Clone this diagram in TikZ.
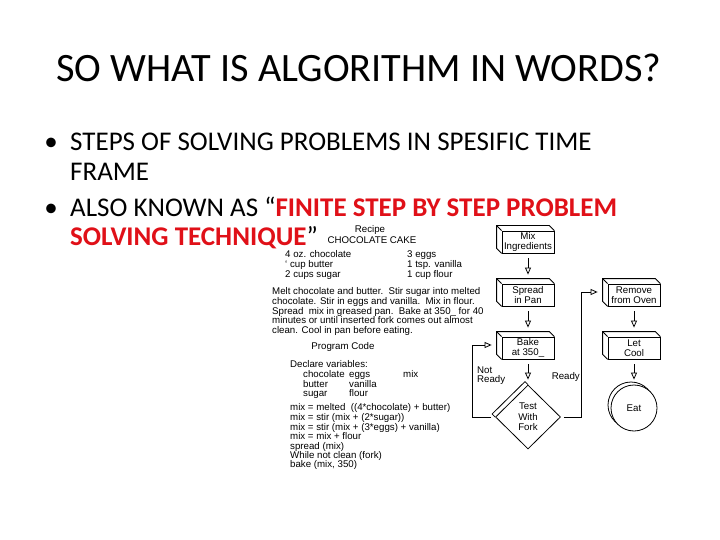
\documentclass[tikz,border=0pt]{standalone}
\usepackage{fontspec}
\setmainfont{Carlito}
\newfontfamily\arialf{Liberation Sans}
\usetikzlibrary{arrows.meta,shapes.geometric,calc}
\definecolor{tred}{RGB}{224,16,24}
\tikzset{
  ttl/.style={font=\fontsize{40.3bp}{48bp}\selectfont, anchor=base, inner sep=0pt},
  bl/.style={font=\fontsize{27bp}{32bp}\selectfont, anchor=base west, inner sep=0pt},
  blt/.style={font=\fontsize{27bp}{32bp}\selectfont, anchor=base, inner sep=0pt},
  sm/.style={font=\arialf\fontsize{9.7bp}{10.5bp}\selectfont, inner sep=0pt},
  ln/.style={sm, anchor=base west},
  lc/.style={sm, anchor=base},
  fbox/.style={sm, draw, line width=0.8bp, minimum width=52bp, minimum height=22bp, align=center, fill=white},
  fdia/.style={sm, draw, line width=0.8bp, shape=diamond, minimum width=65bp, minimum height=64bp, align=center, fill=white},
  feat/.style={sm, draw, line width=0.8bp, shape=circle, minimum size=46bp, fill=white},
  dep/.style={line width=0.8bp},
  flow/.style={line width=0.8bp, -{Triangle[open, length=7bp, width=6bp]}},
}
\newcommand\depthbox[1]{%
  \draw[dep] (#1.south west) -- ++(-5,-5) -- ($(#1.north west)+(-5,-5)$) -- ($(#1.north east)+(-5,-5)$) -- (#1.north east);
  \draw[dep] (#1.north west) -- ++(-5,-5);}
\begin{document}
\begin{tikzpicture}[x=1bp,y=-1bp]
\useasboundingbox[fill=white] (0,0) rectangle (720,540);
% title
\node[ttl] (title) at (359,82) {SO WHAT IS ALGORITHM IN WORDS?};
% bullets
\node[blt] (bu1) at (51,151) {•};
\node[bl] (l1) at (70,151) {STEPS OF SOLVING PROBLEMS IN SPESIFIC TIME};
\node[bl] (l2) at (70,181) {FRAME};
\node[blt] (bu2) at (51,217) {•};
\node[bl] (l3) at (70,217) {ALSO KNOWN AS “\textcolor{tred}{\bfseries FINITE STEP BY STEP PROBLEM}};
\node[bl, text depth=0pt] (l4) at (70,245.5) {\textcolor{tred}{\bfseries SOLVING TECHNIQUE}”};
% recipe
\node[lc] (rec) at (370,233) {Recipe};
\node[lc] (cake) at (372,244) {CHOCOLATE CAKE};
\node[ln] (i1) at (285,258) {4 oz. chocolate};
\node[ln] (i2) at (285,268) {‘ cup butter};
\node[ln] (i3) at (285,278) {2 cups sugar};
\node[ln] (i4) at (407,258) {3 eggs};
\node[ln] (i5) at (407,268) {1 tsp. vanilla};
\node[ln] (i6) at (407,278) {1 cup flour};
\node[ln] (p1) at (272,294) {Melt chocolate and butter.\ \ Stir sugar into melted};
\node[ln] (p2) at (272,304) {chocolate. Stir in eggs and vanilla.\ \ Mix in flour.};
\node[ln] (p3) at (272,314) {Spread\ \ mix in greased pan.\ \ Bake at 350\_ for 40};
\node[ln] (p4) at (272,323) {minutes or until inserted fork comes out almost};
\node[ln] (p5) at (272,333) {clean. Cool in pan before eating.};
% program code
\node[lc] (pc) at (343,349) {Program Code};
\node[ln] (dv) at (290,367) {Declare variables:};
\node[ln] (v1) at (303,377) {chocolate};
\node[ln] (v2) at (349,377) {eggs};
\node[ln] (v3) at (403,377) {mix};
\node[ln] (v4) at (303,387) {butter};
\node[ln] (v5) at (349,387) {vanilla};
\node[ln] (v6) at (303,396) {sugar};
\node[ln] (v7) at (349,396) {flour};
\node[ln] (c1) at (290,410) {mix = melted\ \ ((4*chocolate) + butter)};
\node[ln] (c2) at (290,420) {mix = stir (mix + (2*sugar))};
\node[ln] (c3) at (290,430) {mix = stir (mix + (3*eggs) + vanilla)};
\node[ln] (c4) at (290,439) {mix = mix + flour};
\node[ln] (c5) at (290,449) {spread (mix)};
\node[ln] (c6) at (290,458) {While not clean (fork)};
\node[ln] (c7) at (290,467) {bake (mix, 350)};
% flowchart
\node[fbox] (mix) at (528,242) {Mix\\Ingredients};
\depthbox{mix}
\node[fbox] (spread) at (528,295) {Spread\\in Pan};
\depthbox{spread}
\node[fbox] (bake) at (528,348) {Bake\\at 350\_};
\depthbox{bake}
\node[fbox] (remove) at (634,295) {Remove\\from Oven};
\depthbox{remove}
\node[fbox] (cool) at (634,348) {Let\\Cool};
\depthbox{cool}
\node[fdia] (test) at (528,417) {Test\\With\\Fork};
\draw[dep] (test.north) -- ++(-3,-3) -- ($(test.west)+(-3,-3)$) -- (test.west);
\coordinate (eatc) at (634,408);
\draw[dep] ($(eatc)+(-3,-3)$) circle[radius=23];
\node[feat] (eat) at (eatc) {Eat};
% connectors
\draw[flow, shorten <=5bp, shorten >=9bp] (mix.south) -- (spread.north);
\draw[flow, shorten <=5bp, shorten >=9bp] (spread.south) -- (bake.north);
\draw[flow, shorten <=5bp, shorten >=5bp] (bake.south) -- (test.north);
\draw[flow, shorten <=5bp, shorten >=9bp] (remove.south) -- (cool.north);
\draw[flow, shorten <=5bp, shorten >=5bp] (cool.south) -- (eat.north);
\coordinate (loopc) at (472,345);
\draw[flow, shorten >=10bp] ($(test.west)+(-4,0)$) -- (test.west -| loopc) -- (loopc) -- (bake.west |- loopc);
\coordinate (readyc) at (581,292);
\draw[flow, shorten >=10bp] ($(test.east)+(3,0)$) -- (test.east -| readyc) -- (readyc) -- (remove.west |- readyc);
\node[ln] (nr1) at (477,373) {Not};
\node[ln] (nr2) at (477,382) {Ready};
\node[sm, anchor=base east] (rdy) at (580,379) {Ready};
\end{tikzpicture}
\end{document}
